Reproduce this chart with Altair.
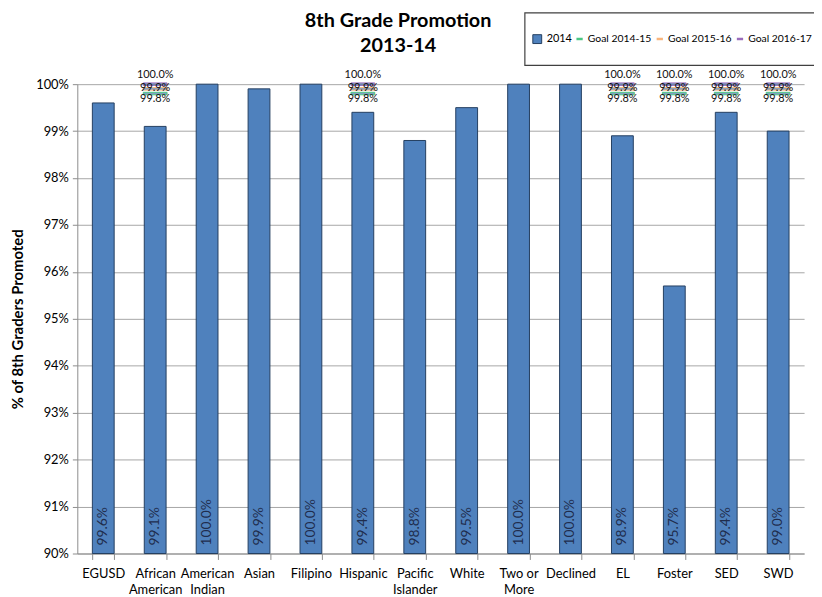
import altair as alt
import pandas as pd

FONT = "Lato"

title_lines = ["8th Grade Promotion", "2013-14"]
categories = ["EGUSD", "African|American", "American|Indian", "Asian", "Filipino",
              "Hispanic", "Pacific|Islander", "White", "Two or|More", "Declined",
              "EL", "Foster", "SED", "SWD"]
values_2014 = [99.6, 99.1, 100.0, 99.9, 100.0, 99.4, 98.8, 99.5, 100.0, 100.0,
               98.9, 95.7, 99.4, 99.0]
goal_groups = ["African|American", "Hispanic", "EL", "Foster", "SED", "SWD"]
goal_names = ["Goal 2014-15", "Goal 2015-16", "Goal 2016-17"]
goal_values = [99.8, 99.9, 100.0]
goal_colors = ["#00B050", "#F79646", "#7030A0"]
y_ticks = list(range(90, 101))

bars_df = pd.DataFrame({"category": categories, "value": values_2014,
                        "series": ["2014"] * len(categories)})
goals_df = pd.DataFrame([{"category": g, "goal": n, "value": v}
                         for g in goal_groups
                         for n, v in zip(goal_names, goal_values)])

x_enc = alt.X(
    "category:N", sort=categories,
    scale=alt.Scale(domain=categories, paddingInner=0.58, paddingOuter=0.29),
    axis=alt.Axis(title=None, labelAngle=0, labelExpr="split(datum.label, '|')",
                  tickBand="extent", grid=False, labelFontSize=13, labelColor="#000",
                  labelPadding=8, labelLineHeight=16, tickColor="#8C8C8C",
                  domainColor="#8C8C8C", tickSize=6, labelFont=FONT),
)
y_scale = alt.Scale(domain=[90, 100], zero=False, nice=False)
y_enc = alt.Y(
    "value:Q", scale=y_scale,
    axis=alt.Axis(values=y_ticks, labelExpr="datum.value + '%'",
                  title="% of 8th Graders Promoted", titleFontSize=15,
                  titleFontWeight="bold", titleFont=FONT, titleColor="#000",
                  titlePadding=10, gridColor="#A6A6A6", tickSize=5,
                  tickColor="#8C8C8C", domainColor="#8C8C8C",
                  labelFontSize=13, labelColor="#000", labelFont=FONT,
                  labelPadding=4),
)
x_plain = alt.X("category:N", sort=categories)
y_plain = alt.Y("value:Q")

# legend frame box
box = alt.Chart(pd.DataFrame({"k": [0]})).mark_rect(
    fill="white", stroke="#404040", strokeWidth=1.2
).encode(x=alt.value(452), x2=alt.value(760), y=alt.value(-72), y2=alt.value(-19))

bars = alt.Chart(bars_df).mark_bar(stroke="#243F60", strokeWidth=1).encode(
    x=x_enc,
    y=y_enc,
    y2=alt.datum(90),
    fill=alt.Fill("series:N",
                  scale=alt.Scale(domain=["2014"], range=["#4F81BD"]),
                  legend=alt.Legend(orient="none", legendX=459, legendY=-51,
                                    direction="horizontal", title=None,
                                    symbolType="square", symbolSize=80,
                                    symbolStrokeColor="#243F60",
                                    symbolStrokeWidth=1, labelFontSize=11,
                                    labelOffset=4,
                                    labelFont=FONT, labelColor="#000")),
)

bar_labels = alt.Chart(bars_df).transform_calculate(
    label="format(datum.value, '.1f') + '%'"
).mark_text(angle=270, align="left", baseline="middle", dx=8, fontSize=14,
            color="#1F2D4D", font=FONT).encode(
    x=x_plain,
    y=alt.datum(90),
    text="label:N",
)

ticks = alt.Chart(goals_df).mark_tick(size=24, thickness=2.5).encode(
    x=x_plain,
    y=y_plain,
    stroke=alt.Stroke("goal:N",
                      scale=alt.Scale(domain=goal_names, range=goal_colors),
                      legend=alt.Legend(orient="none", legendX=502, legendY=-51,
                                        direction="horizontal", title=None,
                                        symbolType="stroke", symbolSize=40,
                                        symbolStrokeWidth=2.5, labelFontSize=10.5,
                                        columnPadding=0, labelOffset=3,
                                        labelFont=FONT, labelColor="#000")),
    order=alt.Order("value:Q"),
)

goal_offsets = {"Goal 2014-15": 6, "Goal 2015-16": -1, "Goal 2016-17": -9}
goal_label_layers = []
for name in goal_names:
    goal_label_layers.append(
        alt.Chart(goals_df).transform_filter(alt.datum.goal == name).transform_calculate(
            label="format(datum.value, '.1f') + '%'"
        ).mark_text(fontSize=11, dy=goal_offsets[name], color="#111", font=FONT).encode(
            x=x_plain,
            y=y_plain,
            text="label:N",
        )
    )

title_ys = [-64, -38]
title_layers = [
    alt.Chart(pd.DataFrame({"line": [line]})).mark_text(
        fontSize=20, fontWeight="bold", font=FONT, color="#000"
    ).encode(x=alt.value(324), y=alt.value(ty), text="line:N")
    for line, ty in zip(title_lines, title_ys)
]

chart = alt.layer(
    box, bars, bar_labels, ticks, *goal_label_layers, *title_layers
).properties(
    width=734, height=474,
    autosize=alt.AutoSizeParams(type="none"),
    padding={"left": 70, "top": 74, "right": 10, "bottom": 41},
).configure_view(stroke=None).configure_axis(labelFont=FONT, titleFont=FONT)

chart.save("out.html", embed_options={"renderer": "svg", "actions": False})
